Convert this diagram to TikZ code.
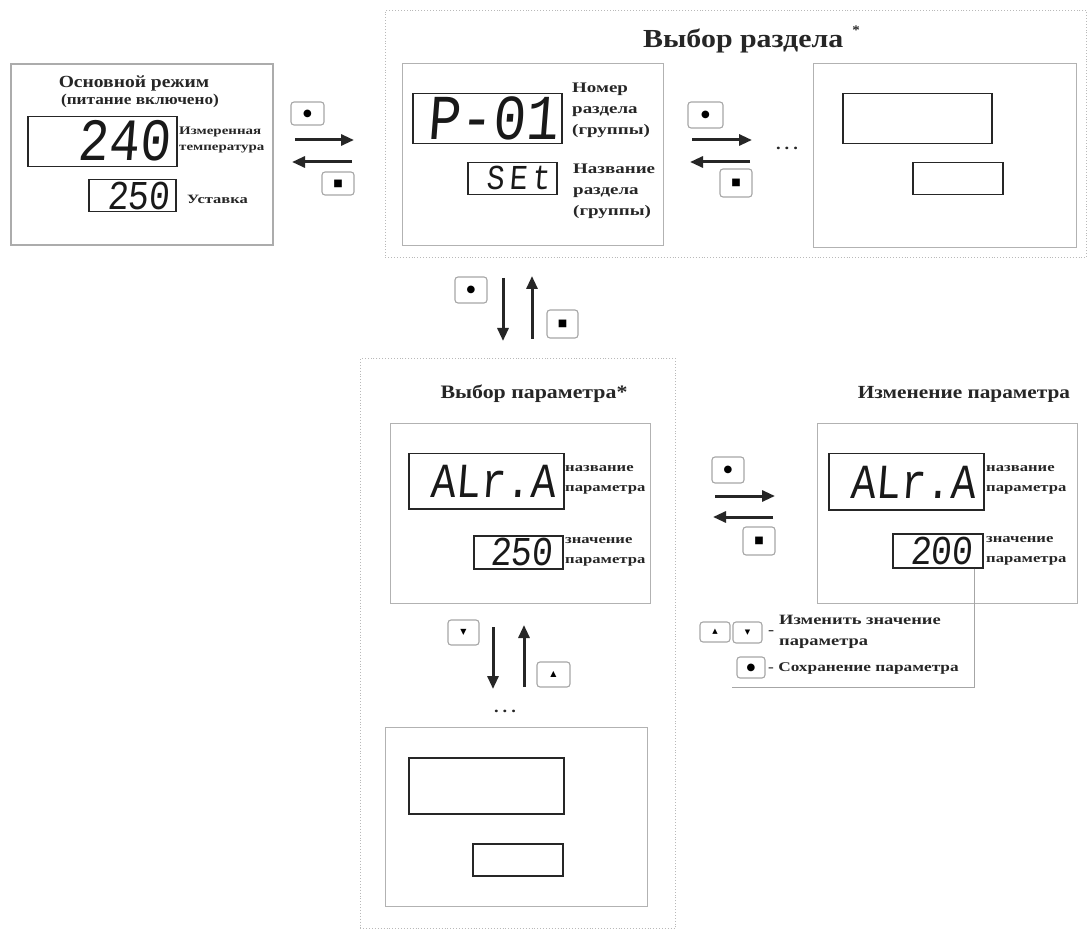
\documentclass[tikz,border=0pt]{standalone}
\usepackage{fontspec}
\setmainfont{Liberation Serif}[FakeStretch=1.15]
\newfontfamily\lblfont[FakeStretch=1.3]{Liberation Serif}
\newfontfamily\segfont[FakeSlant=0.08,FakeStretch=0.85]{Liberation Mono}
\newfontfamily\symfont{DejaVu Sans}
\usetikzlibrary{arrows.meta,calc}
\begin{document}
\begin{tikzpicture}[x=1pt,y=-1pt,
  panel/.style={draw=gray!60, line width=1.2pt, rectangle, inner sep=0pt, anchor=north west},
  mainpanel/.style={draw=gray!65, line width=1.6pt, rectangle, inner sep=0pt, anchor=north west},
  dotpanel/.style={draw=gray!55, dotted, line width=0.9pt, rectangle, inner sep=0pt, anchor=north west},
  disp/.style={draw=black!85, line width=1.5pt, rectangle, inner sep=0pt, anchor=north west},
  seg/.style={inner sep=0pt, anchor=east, text=black!90},
  lbl/.style={inner sep=0pt, align=left, anchor=west, text=black!85},
  ttl/.style={inner sep=0pt, align=center, text=black!85},
  btn/.style={draw=gray!70, line width=1.1pt, rounded corners=3pt, fill=white, inner sep=0pt, font=\symfont\fontsize{10}{10}\selectfont},
  arr/.style={line width=3pt, draw=black!85, -{Triangle[length=13pt,width=11pt]}},
  brk/.style={draw=gray!70, line width=0.8pt}
]
\useasboundingbox[fill=white] (0,0) rectangle (1088,933);

% ---------- main mode panel
\node[mainpanel, minimum width=262, minimum height=181] (main) at (10,63) {};
\node[ttl, font=\bfseries\fontsize{17}{17}\selectfont] (mainT1) at (134,83) {Основной режим};
\node[ttl, font=\bfseries\fontsize{15}{15}\selectfont] (mainT2) at (140,101) {(питание включено)};
\node[disp, minimum width=149, minimum height=50] (d240) at (27,116) {};
\node[seg, font=\segfont\fontsize{60}{60}\selectfont] (t240) at (170,141) {240};
\node[lbl, font=\lblfont\bfseries\fontsize{11.5}{16}\selectfont] (l240) at (179,140) {Измеренная\\температура};
\node[disp, minimum width=87, minimum height=32] (d250) at (88,179) {};
\node[seg, font=\segfont\fontsize{41}{41}\selectfont] (t250) at (170,195.5) {250};
\node[lbl, font=\lblfont\bfseries\fontsize{12.7}{12.7}\selectfont] (l250) at (187,199) {Уставка};

% buttons main <-> section
\node[btn, minimum width=33, minimum height=23] (bA1) at (307.5,113.5) {●};
\coordinate (aA1s) at (295,140); \coordinate (aA1e) at (354,140);
\draw[arr] (aA1s) -- (aA1e);
\coordinate (aA2s) at (352,162); \coordinate (aA2e) at (292,162);
\draw[arr] (aA2s) -- (aA2e);
\node[btn, minimum width=32, minimum height=23] (bA2) at (338,183.5) {■};

% ---------- section selection
\node[dotpanel, minimum width=701, minimum height=247] (sect) at (385,10) {};
\node[ttl, font=\bfseries\fontsize{26}{26}\selectfont, anchor=west] (sectT) at (643,39) {Выбор раздела\hspace{9pt}\raisebox{13pt}{\fontsize{13}{13}\selectfont*}};

\node[panel, minimum width=261, minimum height=182] (p1) at (402,63) {};
\node[disp, minimum width=149, minimum height=50] (dP01) at (412,93) {};
\node[seg, font=\segfont\fontsize{64}{64}\selectfont] (tP01) at (558,118.5) {P-01};
\node[lbl, font=\lblfont\bfseries\fontsize{14.6}{21}\selectfont] (lP01) at (572,110) {Номер\\раздела\\(группы)};
\node[disp, minimum width=89, minimum height=32] (dSEt) at (467,162) {};
\node[seg, font=\segfont\fontsize{35}{35}\selectfont] (tSEt) at (550,178) {S\hspace{5pt}E\hspace{5pt}t};
\node[lbl, font=\lblfont\bfseries\fontsize{14.6}{21}\selectfont] (lSEt) at (573,191) {Название\\раздела\\(группы)};

\node[btn, minimum width=35, minimum height=26] (bB1) at (705.5,115) {●};
\coordinate (aB1s) at (692,140); \coordinate (aB1e) at (752,140);
\draw[arr] (aB1s) -- (aB1e);
\coordinate (aB2s) at (750,162); \coordinate (aB2e) at (690,162);
\draw[arr] (aB2s) -- (aB2e);
\node[btn, minimum width=32, minimum height=28] (bB2) at (736,183) {■};
\node[ttl, font=\bfseries\fontsize{16}{16}\selectfont] (dotsB) at (787,148) {.\hspace{4pt}.\hspace{4pt}.};

\node[panel, minimum width=263, minimum height=184] (p2) at (813,63) {};
\node[disp, minimum width=149, minimum height=50] (p2big) at (842,93) {};
\node[disp, minimum width=90, minimum height=32] (p2small) at (912,162) {};

% vertical arrows section <-> parameter
\node[btn, minimum width=32, minimum height=26] (bC1) at (471,290) {●};
\coordinate (aC1s) at (503,278); \coordinate (aC1e) at (503,341);
\draw[arr] (aC1s) -- (aC1e);
\coordinate (aC2s) at (532,339); \coordinate (aC2e) at (532,276);
\draw[arr] (aC2s) -- (aC2e);
\node[btn, minimum width=31, minimum height=28] (bC2) at (562.5,324) {■};

% ---------- parameter selection
\node[dotpanel, minimum width=315, minimum height=570] (param) at (360,358) {};
\node[ttl, font=\bfseries\fontsize{19}{19}\selectfont] (paramT) at (534,394) {Выбор параметра*};

\node[panel, minimum width=260, minimum height=180] (pA) at (390,423) {};
\node[disp, minimum width=155, minimum height=55] (dA1) at (408,453) {};
\node[seg, font=\segfont\fontsize{49}{49}\selectfont] (tA1) at (556,481.5) {ALr.A};
\node[lbl, font=\lblfont\bfseries\fontsize{12.8}{19.5}\selectfont] (lA1) at (565,480) {название\\параметра};
\node[disp, minimum width=89, minimum height=33] (dA2) at (473,535) {};
\node[seg, font=\segfont\fontsize{41}{41}\selectfont] (tA2) at (553,552) {250};
\node[lbl, font=\lblfont\bfseries\fontsize{12.8}{19.5}\selectfont] (lA2) at (565,552) {значение\\параметра};

\node[btn, minimum width=31, minimum height=25, font=\symfont\fontsize{8}{8}\selectfont] (bD1) at (463.5,632.5) {▼};
\coordinate (aD1s) at (493,627); \coordinate (aD1e) at (493,689);
\draw[arr] (aD1s) -- (aD1e);
\coordinate (aD2s) at (524,687); \coordinate (aD2e) at (524,625);
\draw[arr] (aD2s) -- (aD2e);
\node[btn, minimum width=33, minimum height=25, font=\symfont\fontsize{8}{8}\selectfont] (bD2) at (553.5,674.5) {▲};
\node[ttl, font=\bfseries\fontsize{16}{16}\selectfont] (dotsD) at (505,711) {.\hspace{4pt}.\hspace{4pt}.};

\node[panel, minimum width=262, minimum height=179] (pB) at (385,727) {};
\node[disp, minimum width=155, minimum height=56] (pBbig) at (408,757) {};
\node[disp, minimum width=90, minimum height=32] (pBsmall) at (472,843) {};

% ---------- parameter change
\node[ttl, font=\bfseries\fontsize{18.5}{18.5}\selectfont] (chT) at (964,394) {Изменение параметра};
\node[panel, minimum width=260, minimum height=180] (pC) at (817,423) {};
\node[disp, minimum width=155, minimum height=56] (dC1) at (828,453) {};
\node[seg, font=\segfont\fontsize{49}{49}\selectfont] (tC1) at (976,482) {ALr.A};
\node[lbl, font=\lblfont\bfseries\fontsize{12.8}{19.5}\selectfont] (lC1) at (986,480) {название\\параметра};
\node[disp, minimum width=90, minimum height=34] (dC2) at (892,533) {};
\node[seg, font=\segfont\fontsize{41}{41}\selectfont] (tC2) at (973,551) {200};
\node[lbl, font=\lblfont\bfseries\fontsize{12.8}{19.5}\selectfont] (lC2) at (986,551) {значение\\параметра};

\node[btn, minimum width=32, minimum height=26] (bE1) at (728,470) {●};
\coordinate (aE1s) at (715,496); \coordinate (aE1e) at (775,496);
\draw[arr] (aE1s) -- (aE1e);
\coordinate (aE2s) at (773,517); \coordinate (aE2e) at (713,517);
\draw[arr] (aE2s) -- (aE2e);
\node[btn, minimum width=32, minimum height=28] (bE2) at (759,541) {■};

% legend
\coordinate (brkC) at (974,687);
\coordinate (brkL) at (732,687);
\draw[brk] (dC2.south -| brkC) -- (brkC) -- (brkL);
\node[btn, minimum width=30, minimum height=20, font=\symfont\fontsize{7}{7}\selectfont] (bF1) at (715,632) {▲};
\node[btn, minimum width=29, minimum height=21, font=\symfont\fontsize{7}{7}\selectfont] (bF2) at (747.5,632.5) {▼};
\node[lbl, font=\lblfont\bfseries\fontsize{14}{14}\selectfont] (lF0) at (768,633) {-};
\node[lbl, font=\lblfont\bfseries\fontsize{14.2}{21}\selectfont, anchor=north west] (lF1) at (779,615) {Изменить значение\\параметра};
\node[btn, minimum width=28, minimum height=21] (bF3) at (751,667.5) {●};
\node[lbl, font=\lblfont\bfseries\fontsize{13.3}{13.3}\selectfont] (lF3) at (768,669) {- Сохранение параметра};
\end{tikzpicture}
\end{document}
